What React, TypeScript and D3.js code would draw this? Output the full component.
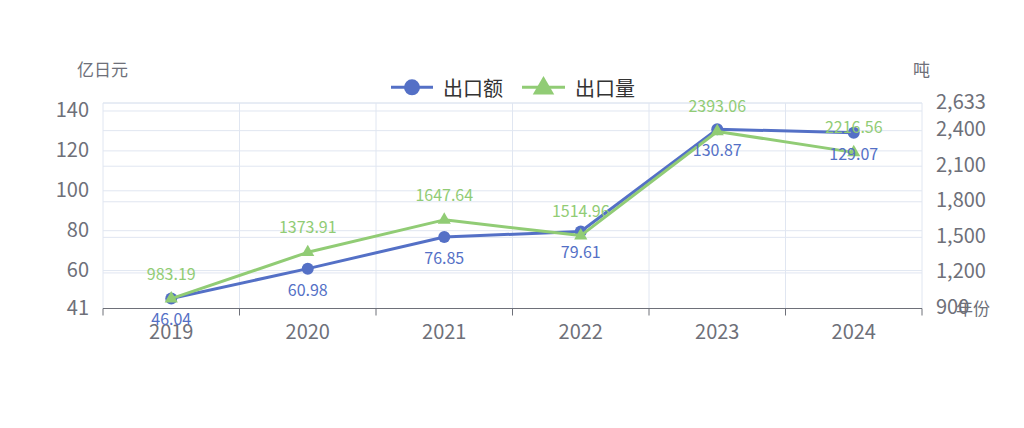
import React, { useEffect, useRef } from 'react';
import * as d3 from 'd3';

const years = ['2019', '2020', '2021', '2022', '2023', '2024'];
const exportValue = [46.04, 60.98, 76.85, 79.61, 130.87, 129.07]; // 亿日元
const exportVolume = [983.19, 1373.91, 1647.64, 1514.96, 2393.06, 2216.56]; // 吨
const leftTicks = [41, 60, 80, 100, 120, 140];
const rightTicks = [900, 1200, 1500, 1800, 2100, 2400, 2633];
const seriesNames = ['出口额', '出口量'];

const BLUE = '#5470c6';
const GREEN = '#91cc75';
const AXIS = '#6E7079';
const GRID = '#E0E6F1';
const FONT = '"Noto Sans CJK SC", "Noto Sans", sans-serif';

const App: React.FC = () => {
  const svgRef = useRef<SVGSVGElement>(null);

  useEffect(() => {
    if (!svgRef.current) return;
    const svg = d3.select(svgRef.current);
    svg.selectAll('*').remove();

    const left = 103;
    const right = 922;
    const top = 103;
    const bottom = 308.5;

    const x = d3.scaleBand().domain(years).range([left, right]);
    const yL = d3.scaleLinear().domain([41, 144]).range([bottom, top]);
    const yR = d3.scaleLinear().domain([900, 2633]).range([bottom, top]);
    const cx = (d: string) => (x(d) as number) + x.bandwidth() / 2;

    // horizontal grid from both axes
    const g = svg.append('g');
    [...leftTicks.slice(1).map(v => yL(v)), ...rightTicks.slice(1).map(v => yR(v)), top].forEach(y => {
      g.append('line')
        .attr('x1', left).attr('x2', right)
        .attr('y1', y).attr('y2', y)
        .attr('stroke', GRID).attr('stroke-width', 1);
    });

    // vertical grid at band boundaries
    const bounds = [...years.map(d => x(d) as number), right];
    bounds.forEach(bx => {
      g.append('line')
        .attr('x1', bx).attr('x2', bx)
        .attr('y1', top).attr('y2', bottom)
        .attr('stroke', GRID).attr('stroke-width', 1);
    });

    // x axis
    svg.append('line')
      .attr('x1', left).attr('x2', right)
      .attr('y1', bottom).attr('y2', bottom)
      .attr('stroke', AXIS).attr('stroke-width', 1);
    bounds.forEach(bx => {
      svg.append('line')
        .attr('x1', bx).attr('x2', bx)
        .attr('y1', bottom).attr('y2', bottom + 7)
        .attr('stroke', AXIS).attr('stroke-width', 1);
    });
    years.forEach(d => {
      svg.append('text')
        .attr('x', cx(d)).attr('y', 330)
        .attr('text-anchor', 'middle').attr('dominant-baseline', 'central')
        .attr('font-size', 20).attr('fill', AXIS).attr('font-family', FONT)
        .text(d);
    });

    // y axes labels
    leftTicks.forEach(v => {
      svg.append('text')
        .attr('x', 89).attr('y', yL(v) - 2)
        .attr('text-anchor', 'end').attr('dominant-baseline', 'central')
        .attr('font-size', 20).attr('fill', AXIS).attr('font-family', FONT)
        .text(v);
    });
    rightTicks.forEach(v => {
      svg.append('text')
        .attr('x', 936).attr('y', yR(v) - 3)
        .attr('text-anchor', 'start').attr('dominant-baseline', 'central')
        .attr('font-size', 20).attr('fill', AXIS).attr('font-family', FONT)
        .text(d3.format(',')(v));
    });

    // axis names
    const axisName = (tx: number, ty: number, t: string, anchor = 'start') =>
      svg.append('text')
        .attr('x', tx).attr('y', ty)
        .attr('text-anchor', anchor).attr('dominant-baseline', 'central')
        .attr('font-size', 17).attr('fill', AXIS).attr('font-family', FONT)
        .text(t);
    axisName(77, 68, '亿日元');
    axisName(913, 68, '吨');
    axisName(956, 307, '年份');

    // series
    const lineL = d3.line<number>().x((_, i) => cx(years[i])).y(v => yL(v));
    const lineR = d3.line<number>().x((_, i) => cx(years[i])).y(v => yR(v));
    const tri = d3.symbol().type(d3.symbolTriangle);

    svg.append('path')
      .attr('d', lineL(exportValue) as string)
      .attr('fill', 'none').attr('stroke', BLUE).attr('stroke-width', 3)
      .attr('stroke-linejoin', 'round');
    exportValue.forEach((v, i) => {
      svg.append('circle')
        .attr('cx', cx(years[i])).attr('cy', yL(v)).attr('r', 6)
        .attr('fill', BLUE);
    });

    svg.append('path')
      .attr('d', lineR(exportVolume) as string)
      .attr('fill', 'none').attr('stroke', GREEN).attr('stroke-width', 3)
      .attr('stroke-linejoin', 'round');
    exportVolume.forEach((v, i) => {
      svg.append('path')
        .attr('d', tri.size(75)() as string)
        .attr('transform', `translate(${cx(years[i])},${yR(v)})`)
        .attr('fill', GREEN);
    });

    // data labels
    exportValue.forEach((v, i) => {
      svg.append('text')
        .attr('x', cx(years[i])).attr('y', yL(v) + 20)
        .attr('text-anchor', 'middle').attr('dominant-baseline', 'central')
        .attr('font-size', 16).attr('fill', BLUE).attr('font-family', FONT)
        .text(v.toFixed(2));
    });
    exportVolume.forEach((v, i) => {
      svg.append('text')
        .attr('x', cx(years[i])).attr('y', yR(v) - 26)
        .attr('text-anchor', 'middle').attr('dominant-baseline', 'central')
        .attr('font-size', 16).attr('fill', GREEN).attr('font-family', FONT)
        .text(v.toFixed(2));
    });

    // legend
    const ly = 87.3;
    const lg = svg.append('g');
    lg.append('line').attr('x1', 391).attr('x2', 433).attr('y1', ly).attr('y2', ly)
      .attr('stroke', BLUE).attr('stroke-width', 3);
    lg.append('circle').attr('cx', 412).attr('cy', ly).attr('r', 8).attr('fill', BLUE);
    lg.append('text').attr('x', 443).attr('y', ly)
      .attr('dominant-baseline', 'central').attr('font-size', 20)
      .attr('fill', '#333').attr('font-family', FONT).text(seriesNames[0]);
    lg.append('line').attr('x1', 522).attr('x2', 565).attr('y1', ly).attr('y2', ly)
      .attr('stroke', GREEN).attr('stroke-width', 3);
    lg.append('path')
      .attr('d', tri.size(200)() as string)
      .attr('transform', `translate(543.5,${ly + 1})`)
      .attr('fill', GREEN);
    lg.append('text').attr('x', 575).attr('y', ly)
      .attr('dominant-baseline', 'central').attr('font-size', 20)
      .attr('fill', '#333').attr('font-family', FONT).text(seriesNames[1]);
  }, []);

  return (
    <svg
      ref={svgRef}
      width={1024}
      height={428}
      style={{ position: 'absolute', left: 0, top: 0, background: '#fff' }}
    />
  );
};

export default App;
